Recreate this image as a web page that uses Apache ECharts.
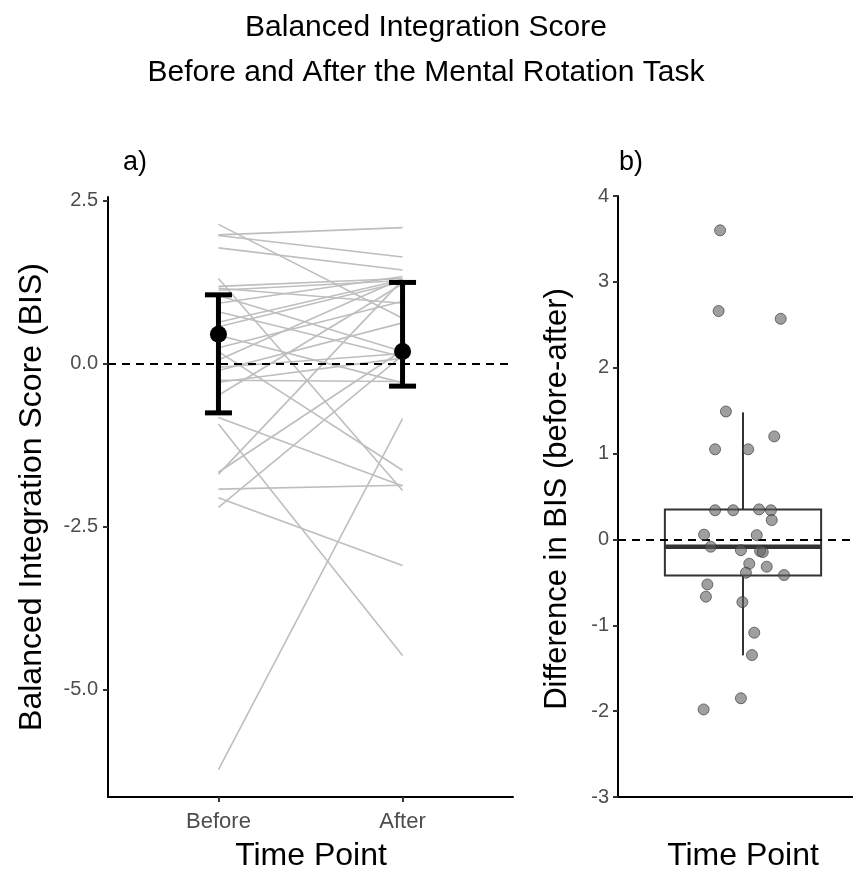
<!DOCTYPE html>
<html><head><meta charset="utf-8">
<script src="https://cdn.jsdelivr.net/npm/echarts@6/dist/echarts.min.js"></script>
<style>html,body{margin:0;padding:0;background:#fff}#c{width:853px;height:869px}</style>
</head><body><div id="c"></div>
<script>
// ---------- data ----------
const timePoints = ['Before', 'After'];
const beforeBIS = [2.13, 1.97, 1.96, 1.77, 1.30, 1.18, 1.15, 1.12, 1.04, 0.92, 0.79, 0.63, 0.56, 0.43, 0.24,
                   0.18, 0.05, -0.06, -0.11, -0.26, -0.29, -0.49, -0.83, -0.93, -1.67, -1.70, -1.93, -2.06, -2.21, -6.23];
const afterBIS  = [0.69, 2.08, 1.63, 1.43, -1.95, 1.30, 0.92, 1.27, 0.18, 1.33, 0.10, 1.28, 1.25, -0.30, 0.95,
                   -1.64, 1.30, 0.15, 0.62, -0.28, 0.08, 1.22, -1.88, -4.48, 0.20, 1.28, -1.87, -3.10, 0.12, -0.85];
const summaryMean = [0.445, 0.18];
const summaryLow  = [-0.76, -0.35];
const summaryHigh = [1.05, 1.24];
const yTicksA = [-5, -2.5, 0, 2.5];

const diffBIS = [3.60, 2.66, 2.57, 1.49, 1.05, 1.05, 1.20, 0.34, 0.34, 0.35, 0.34, 0.225, 0.055, 0.05, -0.085,
                 -0.125, -0.136, -0.147, -0.283, -0.318, -0.388, -0.415, -0.524, -0.667, -0.73, -1.086, -1.347, -1.85, -1.98];
const diffJitterX = [0.890, 0.883, 1.181, 0.918, 0.866, 1.025, 1.150, 0.866, 0.953, 1.077, 1.134, 1.138, 0.813, 1.066, 0.845,
                     0.990, 1.082, 1.095, 1.030, 1.114, 1.014, 1.197, 0.829, 0.822, 0.997, 1.054, 1.043, 0.990, 0.811];
// whisker low, Q1, median, Q3, whisker high
const boxStats = [-1.35, -0.42, -0.085, 0.35, 1.48];

// ---------- chart ----------
const chart = echarts.init(document.getElementById('c'), null, {renderer: 'canvas'});
const FONT = 'Liberation Sans, Arial, sans-serif';

const lineSeries = beforeBIS.map((b, i) => ({
  type: 'line', xAxisIndex: 0, yAxisIndex: 0, silent: true, z: 1,
  symbol: 'none', data: [[1, b], [2, afterBIS[i]]],
  lineStyle: {color: '#bebebe', width: 1.6}
}));

function errRender(params, api) {
  const x = api.value(0), lo = api.value(1), hi = api.value(2);
  const pLo = api.coord([x, lo]), pHi = api.coord([x, hi]);
  const cap = 13.5, st = {stroke: '#000', lineWidth: 5};
  return {type: 'group', children: [
    {type: 'line', shape: {x1: pLo[0], y1: pLo[1], x2: pHi[0], y2: pHi[1]}, style: st},
    {type: 'line', shape: {x1: pLo[0] - cap, y1: pLo[1], x2: pLo[0] + cap, y2: pLo[1]}, style: st},
    {type: 'line', shape: {x1: pHi[0] - cap, y1: pHi[1], x2: pHi[0] + cap, y2: pHi[1]}, style: st}
  ]};
}

function boxRender(params, api) {
  const x = api.value(0);
  const wl = api.value(1), q1 = api.value(2), md = api.value(3), q3 = api.value(4), wh = api.value(5);
  const hw = 0.375;
  const pL = api.coord([x - hw, q3]), pR = api.coord([x + hw, q1]);
  const pMdL = api.coord([x - hw, md]), pMdR = api.coord([x + hw, md]);
  const pQ3 = api.coord([x, q3]), pWh = api.coord([x, wh]);
  const pQ1 = api.coord([x, q1]), pWl = api.coord([x, wl]);
  const st = {stroke: '#333', lineWidth: 2, fill: null};
  return {type: 'group', children: [
    {type: 'line', shape: {x1: pQ3[0], y1: pQ3[1], x2: pWh[0], y2: pWh[1]}, style: st},
    {type: 'line', shape: {x1: pQ1[0], y1: pQ1[1], x2: pWl[0], y2: pWl[1]}, style: st},
    {type: 'rect', shape: {x: pL[0], y: pL[1], width: pR[0] - pL[0], height: pR[1] - pL[1]},
     style: {stroke: '#333', lineWidth: 2, fill: '#fff'}},
    {type: 'line', shape: {x1: pMdL[0], y1: pMdL[1], x2: pMdR[0], y2: pMdR[1]}, style: {stroke: '#333', lineWidth: 4.5}}
  ]};
}

const axisLineStyle = {show: true, onZero: false, lineStyle: {color: '#000', width: 2}};
const tickStyle = {show: true, length: 5, lineStyle: {color: '#333', width: 2}};
const labelStyle = {color: '#4d4d4d', fontSize: 20, fontFamily: FONT};
const xLabelStyle = {color: '#4d4d4d', fontSize: 22, fontFamily: FONT};

const option = {
  animation: false,
  backgroundColor: '#fff',
  grid: [
    {left: 108, top: 197, width: 405, height: 600},
    {left: 618, top: 196, width: 235, height: 601}
  ],
  xAxis: [
    {gridIndex: 0, type: 'value', min: 0.4, max: 2.6,
     axisLine: axisLineStyle, splitLine: {show: false},
     axisTick: Object.assign({customValues: [1, 2]}, tickStyle),
     axisLabel: Object.assign({customValues: [1, 2], margin: 14,
       formatter: v => timePoints[Math.round(v) - 1] || ''}, xLabelStyle)},
    {gridIndex: 1, type: 'value', min: 0.4, max: 0.4 + 235 / 208.33,
     axisLine: axisLineStyle, splitLine: {show: false},
     axisTick: {show: false}, axisLabel: {show: false}}
  ],
  yAxis: [
    {gridIndex: 0, type: 'value', min: -6.65, max: 2.55,
     axisLine: axisLineStyle, splitLine: {show: false},
     axisTick: Object.assign({customValues: yTicksA}, tickStyle),
     axisLabel: Object.assign({customValues: yTicksA, margin: 10,
       formatter: v => v.toFixed(1)}, labelStyle)},
    {gridIndex: 1, type: 'value', min: -3, max: 4, interval: 1,
     axisLine: axisLineStyle, splitLine: {show: false},
     axisTick: tickStyle,
     axisLabel: Object.assign({margin: 9}, labelStyle)}
  ],
  graphic: [
    {type: 'text', x: 426, y: 28, style: {text: 'Balanced Integration Score', font: '30px ' + FONT, fill: '#000', textAlign: 'center', textVerticalAlign: 'middle'}},
    {type: 'text', x: 426, y: 73, style: {text: 'Before and After the Mental Rotation Task', font: '30px ' + FONT, fill: '#000', textAlign: 'center', textVerticalAlign: 'middle'}},
    {type: 'text', x: 123, y: 163, style: {text: 'a)', font: '27px ' + FONT, fill: '#000', textVerticalAlign: 'middle'}},
    {type: 'text', x: 619, y: 163, style: {text: 'b)', font: '27px ' + FONT, fill: '#000', textVerticalAlign: 'middle'}},
    {type: 'text', x: 32, y: 497, rotation: Math.PI / 2,
     style: {text: 'Balanced Integration Score (BIS)', font: '32px ' + FONT, fill: '#000', textAlign: 'center', textVerticalAlign: 'middle'}},
    {type: 'text', x: 557, y: 499, rotation: Math.PI / 2,
     style: {text: 'Difference in BIS (before-after)', font: '31px ' + FONT, fill: '#000', textAlign: 'center', textVerticalAlign: 'middle'}},
    {type: 'text', x: 311, y: 856, style: {text: 'Time Point', font: '32px ' + FONT, fill: '#000', textAlign: 'center', textVerticalAlign: 'middle'}},
    {type: 'text', x: 743, y: 856, style: {text: 'Time Point', font: '32px ' + FONT, fill: '#000', textAlign: 'center', textVerticalAlign: 'middle'}}
  ],
  series: lineSeries.concat([
    {type: 'custom', xAxisIndex: 0, yAxisIndex: 0, z: 3, silent: true, renderItem: errRender,
     data: summaryMean.map((m, i) => [i + 1, summaryLow[i], summaryHigh[i]])},
    {type: 'scatter', xAxisIndex: 0, yAxisIndex: 0, z: 4, silent: true, symbolSize: 17,
     itemStyle: {color: '#000', opacity: 1}, data: summaryMean.map((m, i) => [i + 1, m]),
     markLine: {silent: true, symbol: 'none', label: {show: false},
       lineStyle: {color: '#000', type: [8, 6], width: 1.8, opacity: 1}, data: [{yAxis: 0}]}},
    {type: 'custom', xAxisIndex: 1, yAxisIndex: 1, z: 2, silent: true, renderItem: boxRender,
     data: [[1].concat(boxStats)],
     markLine: {silent: true, symbol: 'none', label: {show: false},
       lineStyle: {color: '#000', type: [8, 6], width: 1.8, opacity: 1}, data: [{yAxis: 0}]}},
    {type: 'scatter', xAxisIndex: 1, yAxisIndex: 1, z: 5, silent: true, symbolSize: 11,
     itemStyle: {color: 'rgba(95,95,95,0.6)', borderColor: 'rgba(50,50,50,0.65)', borderWidth: 1, opacity: 1},
     data: diffJitterX.map((x, i) => [x, diffBIS[i]])}
  ])
};
chart.setOption(option);
</script>
</body></html>
